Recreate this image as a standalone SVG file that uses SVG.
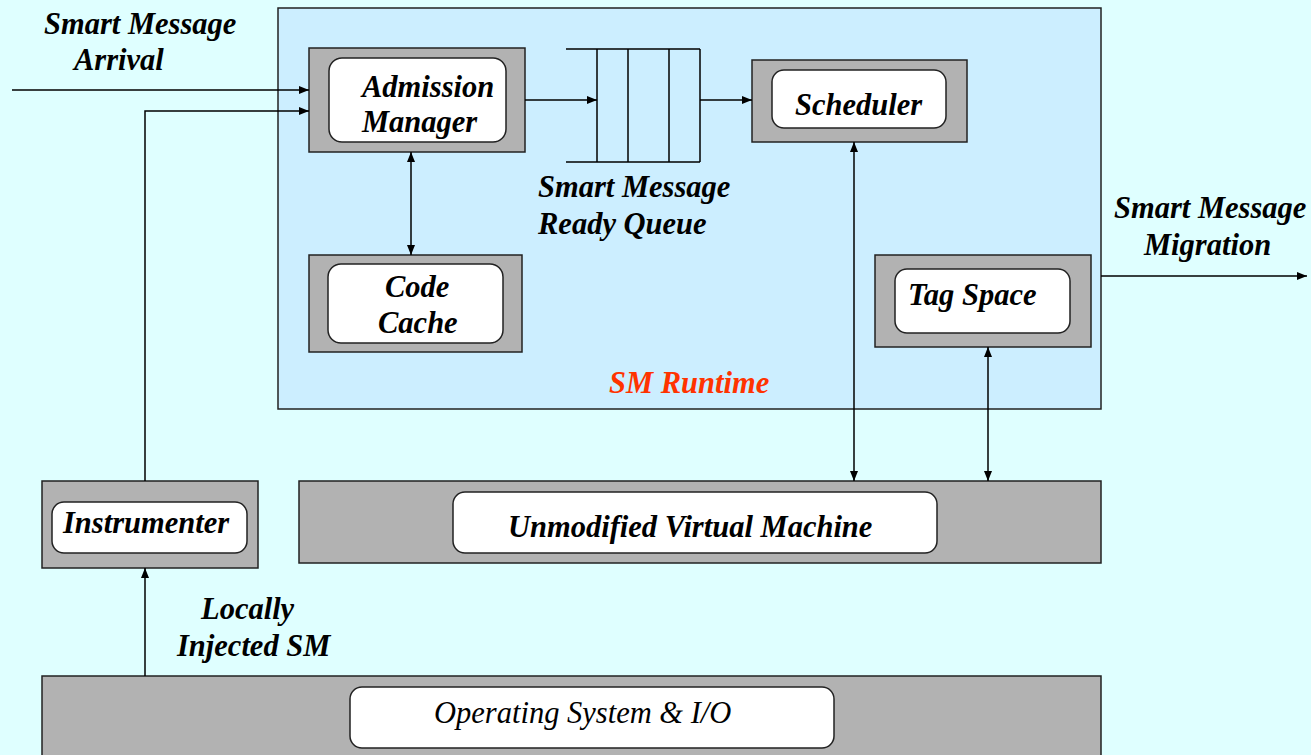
<svg xmlns="http://www.w3.org/2000/svg" width="1311" height="755" viewBox="0 0 1311 755">
<style>
.bg{fill:#dfffff}
.rt{fill:#cceeff;stroke:#222;stroke-width:1.5}
.outer{fill:#b2b2b2;stroke:#222;stroke-width:1.5}
.inner{fill:#fff;stroke:#222;stroke-width:1.5}
.t{font-family:'Liberation Serif',serif;font-size:30.5px;font-style:italic;font-weight:bold;fill:#000}
.tn{font-family:'Liberation Serif',serif;font-size:30.5px;font-style:italic;fill:#000}
.red{fill:#ff3300}
.ln{fill:none;stroke:#000;stroke-width:1.5}
</style>
<defs>
<marker id="ah" viewBox="0 0 10 10" refX="10" refY="5" markerWidth="10" markerHeight="10" markerUnits="userSpaceOnUse" orient="auto-start-reverse">
<path d="M0,1 L10,5 L0,9 Z" fill="#000"/>
</marker>
</defs>
<rect class="bg" x="0" y="0" width="1311" height="755"/>
<g id="sm-runtime">
<rect class="rt" x="278" y="8" width="823" height="401"/>
<text class="t red" x="609" y="393">SM Runtime</text>
</g>
<g id="admission-manager">
<rect class="outer" x="309" y="48" width="216" height="104"/>
<rect class="inner" x="329" y="58" width="177" height="84" rx="13"/>
<text class="t" x="362" y="97">Admission</text>
<text class="t" x="362" y="132">Manager</text>
</g>
<g id="ready-queue">
<path class="ln" d="M566,49 H700 M566,162 H700 M597,49 V162 M628,49 V162 M669,49 V162 M700,49 V162"/>
<text class="t" x="538" y="197">Smart Message</text>
<text class="t" x="538" y="234">Ready Queue</text>
</g>
<g id="scheduler">
<rect class="outer" x="752" y="60" width="215" height="82"/>
<rect class="inner" x="772" y="70" width="174" height="58" rx="12"/>
<text class="t" x="795" y="115">Scheduler</text>
</g>
<g id="code-cache">
<rect class="outer" x="309" y="255" width="213" height="97"/>
<rect class="inner" x="328" y="264" width="175" height="79" rx="13"/>
<text class="t" x="385" y="297">Code</text>
<text class="t" x="378" y="333">Cache</text>
</g>
<g id="tag-space">
<rect class="outer" x="875" y="255" width="216" height="92"/>
<rect class="inner" x="895" y="269" width="175" height="64" rx="12"/>
<text class="t" x="908" y="305">Tag Space</text>
</g>
<g id="virtual-machine">
<rect class="outer" x="299" y="481" width="802" height="82"/>
<rect class="inner" x="453" y="492" width="484" height="61" rx="12"/>
<text class="t" x="508" y="537">Unmodified Virtual Machine</text>
</g>
<g id="instrumenter">
<rect class="outer" x="42" y="481" width="216" height="87"/>
<rect class="inner" x="52" y="502" width="195" height="51" rx="12"/>
<text class="t" x="63" y="533">Instrumenter</text>
</g>
<g id="operating-system">
<rect class="outer" x="42" y="676" width="1059" height="90"/>
<rect class="inner" x="350" y="687" width="484" height="61" rx="12"/>
<text class="tn" x="434" y="723">Operating System &amp; I/O</text>
</g>
<g id="labels">
<text class="t" x="44" y="34">Smart Message</text>
<text class="t" x="74" y="70">Arrival</text>
<text class="t" x="1114" y="218">Smart Message</text>
<text class="t" x="1144" y="255">Migration</text>
<text class="t" x="201" y="619">Locally</text>
<text class="t" x="177" y="656">Injected SM</text>
</g>
<g id="connectors">
<path class="ln" d="M12,90 H309" marker-end="url(#ah)"/>
<path class="ln" d="M145,481 V111 H309" marker-end="url(#ah)"/>
<path class="ln" d="M525,100 H597" marker-end="url(#ah)"/>
<path class="ln" d="M700,100 H752" marker-end="url(#ah)"/>
<path class="ln" d="M411,152 V255" marker-start="url(#ah)" marker-end="url(#ah)"/>
<path class="ln" d="M854,142 V481" marker-start="url(#ah)" marker-end="url(#ah)"/>
<path class="ln" d="M988,347 V481" marker-start="url(#ah)" marker-end="url(#ah)"/>
<path class="ln" d="M1101,276 H1307" marker-end="url(#ah)"/>
<path class="ln" d="M145,676 V568" marker-end="url(#ah)"/>
</g>
</svg>
